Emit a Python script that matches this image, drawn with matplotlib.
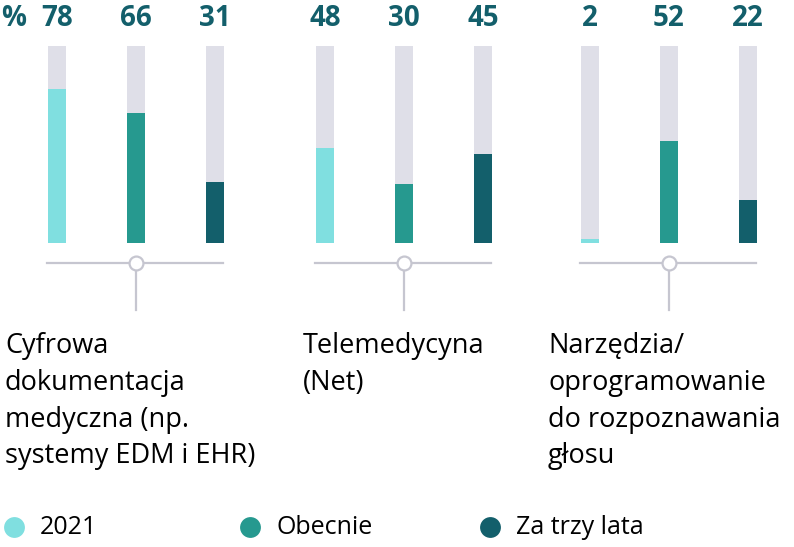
import matplotlib
matplotlib.use("Agg")
from matplotlib import pyplot as plt

plt.rcParams['font.family'] = ['Open Sans', 'DejaVu Sans']

categories = ["Cyfrowa\ndokumentacja\nmedyczna (np.\nsystemy EDM i EHR)",
              "Telemedycyna\n(Net)",
              "Narzędzia/\noprogramowanie\ndo rozpoznawania\ngłosu"]
series = ["2021", "Obecnie", "Za trzy lata"]
values = [[78, 66, 31],
          [48, 30, 45],
          [2, 52, 22]]

colors = ["#80dfe0", "#26998f", "#135f6b"]
bg_grey = "#dfdfe8"
line_grey = "#c6c6d0"
num_color = "#135f6b"

W, H = 794, 547
fig = plt.figure(figsize=(W / 100, H / 100), dpi=100)

# pixel-space overlay for texts / connectors
ov = fig.add_axes([0, 0, 1, 1])
ov.set_xlim(0, W)
ov.set_ylim(H, 0)
ov.axis('off')

centers = [57, 325, 590]   # x of first bar in each group (px)
step = 79
bar_bottom, bar_top = 243, 46
label_x = [5, 303, 548]

for g in range(3):
    left = centers[g] - step / 2
    ax = fig.add_axes([left / W, (H - bar_bottom) / H, 3 * step / W, (bar_bottom - bar_top) / H])
    ax.set_xlim(-0.5, 2.5)
    ax.set_ylim(0, 100)
    ax.axis('off')
    x = [0, 1, 2]
    ax.bar(x, [100] * 3, width=0.23, color=bg_grey, zorder=1)
    ax.bar(x, values[g], width=0.23, color=colors, zorder=2)

    for i in range(3):
        cx = centers[g] + i * step
        ov.text(cx, 19, str(values[g][i]), ha='center', va='center',
                fontsize=20, fontweight='bold', color=num_color)

    mid = centers[g] + step
    ov.plot([centers[g] - 10, centers[g] + 2 * step + 8], [263, 263],
            color=line_grey, lw=1.6, zorder=3)
    ov.plot([mid, mid], [269, 310], color=line_grey, lw=1.6, zorder=3)
    ov.plot([mid], [263], marker='o', ms=10, mfc='white', mec=line_grey,
            mew=1.6, zorder=4)

    ov.text(label_x[g], 332, categories[g], ha='left', va='top',
            fontsize=19.5, color='black', linespacing=1.42)

ov.text(14, 19, "%", ha='center', va='center', fontsize=20,
        fontweight='bold', color=num_color)

# legend
leg_x = [14, 250, 490]
for i in range(3):
    ov.plot([leg_x[i]], [527], marker='o', ms=15, color=colors[i], mew=0)
    ov.text(leg_x[i] + 26, 527, series[i], ha='left', va='center',
            fontsize=18, color='black')

fig.savefig("out.png", dpi=100)
